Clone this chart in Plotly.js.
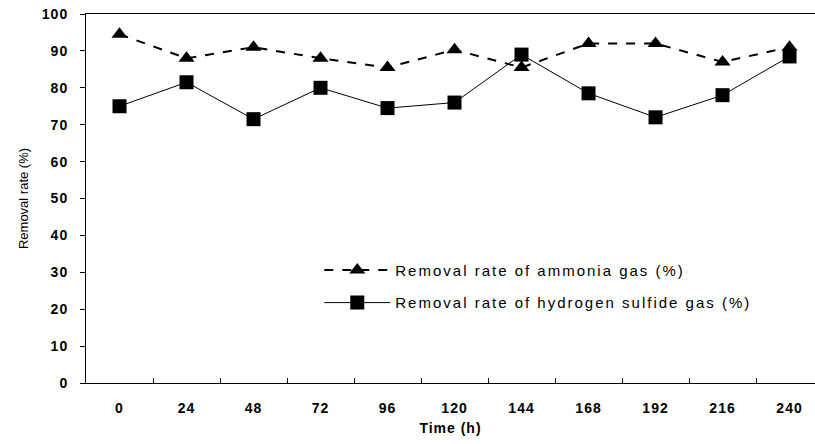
<!DOCTYPE html>
<html>
<head>
<meta charset="utf-8">
<script src="https://cdn.plot.ly/plotly-3.0.1.min.js"></script>
<style>
html,body{margin:0;padding:0;background:#fff;}
#chart{width:815px;height:444px;}
.legendtext{letter-spacing:2px;}
.xtick text,.ytick text{letter-spacing:1px;}
.g-xtitle text{letter-spacing:1px;}
</style>
</head>
<body>
<div id="chart"></div>
<script>
const timeLabels = ["0","24","48","72","96","120","144","168","192","216","240"];
const ammonia = [94.5, 88, 91, 88, 85.5, 90.3, 85.5, 92, 92, 87, 91];
const hydrogenSulfide = [75, 81.5, 71.5, 80, 74.5, 76, 89, 78.5, 72, 78, 88.5];
const yTicks = [0,10,20,30,40,50,60,70,80,90,100];

const font = {family: "Liberation Sans, Arial, sans-serif", color: "#000"};
const boldTick = Object.assign({size: 14, weight: "bold"}, font);

const traces = [
  {
    x: timeLabels, y: ammonia, type: "scatter", mode: "lines+markers",
    name: "Removal rate of ammonia gas (%)", legendgroup: "a",
    line: {color: "#000", width: 2, dash: "dash"},
    marker: {symbol: "triangle-up", size: 14, color: "#000"}
  },
  {
    x: timeLabels, y: hydrogenSulfide, type: "scatter", mode: "lines+markers",
    name: "Removal rate of hydrogen sulfide gas (%)", legendgroup: "b",
    line: {color: "#000", width: 1},
    marker: {symbol: "square", size: 14, color: "#000"}
  }
];

const layout = {
  width: 815, height: 444,
  margin: {l: 86, r: 0, t: 14, b: 61},
  paper_bgcolor: "#fff", plot_bgcolor: "#fff",
  font: Object.assign({size: 13}, font),
  showlegend: true,
  legend: {
    x: 0.32, y: 0.35, xanchor: "left", yanchor: "top",
    bgcolor: "rgba(0,0,0,0)", borderwidth: 0,
    font: Object.assign({size: 15}, font),
    traceorder: "grouped", tracegroupgap: 10, itemwidth: 66
  },
  xaxis: {
    type: "category", range: [-0.5, 10.38],
    showline: true, linecolor: "#000", linewidth: 1, mirror: true,
    ticks: "inside", ticklen: 5, tickcolor: "#000", tickson: "boundaries",
    ticklabelstandoff: 12,
    showgrid: false, zeroline: false,
    tickfont: boldTick,
    title: {text: "Time (h)", font: Object.assign({size: 14, weight: "bold"}, font), standoff: 8}
  },
  yaxis: {
    range: [0, 100], tickvals: yTicks,
    showline: true, linecolor: "#000", linewidth: 1,
    ticks: "outside", ticklen: 5, tickcolor: "#000",
    ticklabelstandoff: 9,
    showgrid: false, zeroline: false,
    tickfont: boldTick,
    title: {text: "Removal rate (%)", font: Object.assign({size: 13}, font), standoff: 10}
  }
};

Plotly.newPlot("chart", traces, layout, {displayModeBar: false, staticPlot: true});
</script>
</body>
</html>
